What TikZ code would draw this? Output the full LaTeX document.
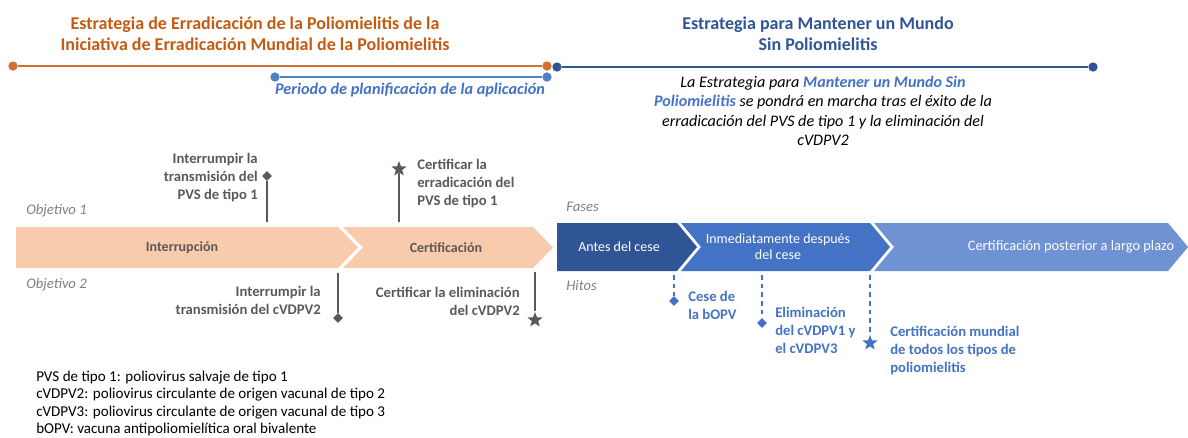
\documentclass[tikz,border=0pt]{standalone}
\usepackage{fontspec}
\setmainfont{Carlito}
\usetikzlibrary{shapes.geometric}
\definecolor{naranja}{RGB}{197,90,17}
\definecolor{naranjaln}{RGB}{210,112,52}
\definecolor{durazno}{RGB}{248,203,173}
\definecolor{azuloscuro}{RGB}{47,85,151}
\definecolor{azul}{RGB}{68,114,196}
\definecolor{azulclaro}{RGB}{111,146,212}
\definecolor{azulln}{RGB}{79,129,199}
\definecolor{grisosc}{RGB}{89,89,89}
\definecolor{gris}{RGB}{128,128,128}
\tikzset{
  punto/.style={circle, inner sep=0, minimum size=7pt},
  txt/.style={inner sep=0, font=\bfseries\fontsize{11}{13.5}\selectfont},
  fase/.style={inner sep=0, font=\fontsize{10.5}{12}\selectfont},
  rombo/.style={diamond, inner sep=0, minimum size=7.5pt},
  estrella/.style={star, star points=5, star point ratio=2.4, inner sep=0, minimum size=12pt},
  etiq/.style={inner sep=0, text=gris, font=\itshape\fontsize{11}{13}\selectfont},
  gline/.style={grisosc, line width=1.5pt},
  bline/.style={azul, line width=1.3pt, dash pattern=on 3.5pt off 3pt}
}
\begin{document}
\begin{tikzpicture}[x=0.75pt,y=-0.75pt]
\useasboundingbox (0,0) rectangle (1188,437);
% titulos
\node[text=naranja, font=\bfseries\fontsize{13.5}{16}\selectfont, align=center] (tit1) at (255,34) {Estrategia de Erradicación de la Poliomielitis de la\\Iniciativa de Erradicación Mundial de la Poliomielitis};
\node[text=azuloscuro, font=\bfseries\fontsize{13.5}{16}\selectfont, align=center] (tit2) at (818,34) {Estrategia para Mantener un Mundo\\Sin Poliomielitis};
% lineas de tiempo
\node[punto, fill=naranjaln] (o1) at (13,66) {};
\node[punto, fill=naranjaln] (o2) at (547,66) {};
\draw[naranjaln, line width=2.2pt] (o1)--(o2);
\node[punto, fill=azulln] (p1) at (275,77) {};
\node[punto, fill=azulln] (p2) at (547,77) {};
\draw[azulln, line width=2.2pt] (p1)--(p2);
\node[punto, fill=azuloscuro] (m1) at (557,67) {};
\node[punto, fill=azuloscuro] (m2) at (1093,67) {};
\draw[azuloscuro, line width=2.2pt] (m1)--(m2);
\node[text=azul, font=\bfseries\itshape\fontsize{12.2}{14}\selectfont] (per) at (410,90) {Periodo de planificación de la aplicación};
\node[align=center, font=\itshape\fontsize{12.1}{14.6}\selectfont] (texto) at (823,111) {La Estrategia para \textcolor{azul}{\bfseries Mantener un Mundo Sin}\\\textcolor{azul}{\bfseries Poliomielitis} se pondrá en marcha tras el éxito de la\\erradicación del PVS de tipo 1 y la eliminación del\\cVDPV2};
% flechas
\fill[durazno] (16,227)--(338,227)--(358,247.5)--(338,268)--(16,268)--cycle;
\fill[durazno] (343,227)--(533,227)--(553,247.5)--(533,268)--(343,268)--(363,247.5)--cycle;
\fill[azuloscuro] (557,223)--(677,223)--(697,247)--(677,271)--(557,271)--cycle;
\fill[azul] (681,223)--(870,223)--(890,247)--(870,271)--(681,271)--(701,247)--cycle;
\fill[azulclaro] (874,223)--(1168,223)--(1188,247)--(1168,271)--(874,271)--(894,247)--cycle;
\node[fase, text=grisosc, font=\fontsize{10.5}{12}\selectfont\bfseries] (f1) at (182,248) {Interrupción};
\node[fase, text=grisosc, font=\fontsize{10.5}{12}\selectfont\bfseries] (f2) at (446,248) {Certificación};
\node[fase, text=white] (f3) at (619,247) {Antes del cese};
\node[fase, text=white, align=center] (f4) at (778,247) {Inmediatamente después\\del cese};
\node[fase, text=white, font=\fontsize{10.8}{12}\selectfont] (f5) at (1071,247) {Certificación posterior a largo plazo};
\node[etiq, anchor=west] (ob1) at (26,211) {Objetivo 1};
\node[etiq, anchor=west] (ob2) at (26,285) {Objetivo 2};
\node[etiq, anchor=west] (fa) at (566,207) {Fases};
\node[etiq, anchor=west] (hi) at (566,285) {Hitos};
% objetivo 1
\coordinate (a1) at (267,222);
\node[rombo, fill=grisosc] (r1) at (267,176) {};
\draw[gline] (a1)--(r1);
\node[txt, text=grisosc, align=right, anchor=east] (h1) at (258,177) {Interrumpir la\\transmisión del\\PVS de tipo 1};
\coordinate (a2) at (399,222);
\node[estrella, fill=grisosc] (s1) at (399,169) {};
\draw[gline] (a2)--(s1);
\node[txt, text=grisosc, align=left, anchor=west] (h2) at (417,183) {Certificar la\\erradicación del\\PVS de tipo 1};
% objetivo 2
\coordinate (a3) at (338,273);
\node[rombo, fill=grisosc] (r2) at (338,318) {};
\draw[gline] (a3)--(r2);
\node[txt, text=grisosc, align=right, anchor=east] (h3) at (321,300.5) {Interrumpir la\\transmisión del cVDPV2};
\coordinate (a4) at (535,272);
\node[estrella, fill=grisosc] (s2) at (535,320) {};
\draw[gline] (a4)--(s2);
\node[txt, text=grisosc, align=right, anchor=east] (h4) at (520,301) {Certificar la eliminación\\del cVDPV2};
% hitos
\coordinate (a5) at (674,275);
\node[rombo, fill=azul] (r3) at (674,301) {};
\draw[bline] (a5)--(r3);
\node[txt, text=azul, align=left, anchor=west] (h5) at (688,305.5) {Cese de\\la bOPV};
\coordinate (a6) at (762,275);
\node[rombo, fill=azul] (r4) at (762,323) {};
\draw[bline] (a6)--(r4);
\node[txt, text=azul, align=left, anchor=west] (h6) at (775,330) {Eliminación\\del cVDPV1 y\\el cVDPV3};
\coordinate (a7) at (870,275);
\node[estrella, fill=azul] (s3) at (870,343) {};
\draw[bline] (a7)--(s3);
\node[txt, text=azul, align=left, anchor=west] (h7) at (890,350) {Certificación mundial\\de todos los tipos de\\poliomielitis};
% siglas
\node[inner sep=0, anchor=west, align=left, font=\fontsize{11.3}{13.2}\selectfont] (sig) at (36,403.5) {PVS de tipo 1: poliovirus salvaje de tipo 1\\cVDPV2: poliovirus circulante de origen vacunal de tipo 2\\cVDPV3: poliovirus circulante de origen vacunal de tipo 3\\bOPV: vacuna antipoliomielítica oral bivalente};
\end{tikzpicture}
\end{document}
